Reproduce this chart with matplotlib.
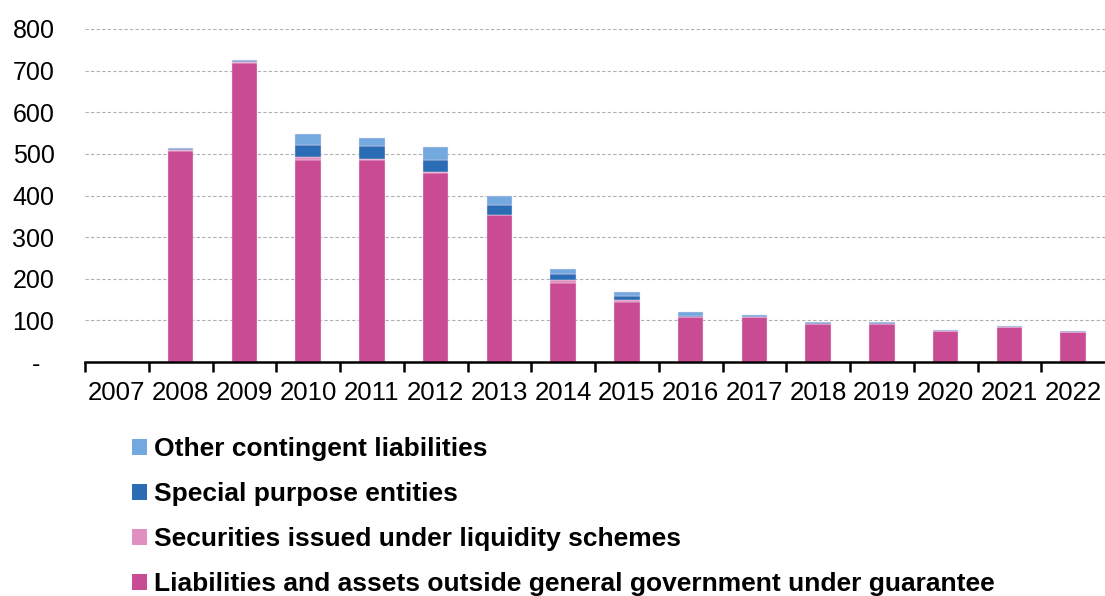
import matplotlib.pyplot as plt
import numpy as np
from matplotlib.patches import Patch

plt.rcParams['font.family'] = ['Liberation Sans', 'DejaVu Sans']

years = ['2007', '2008', '2009', '2010', '2011', '2012', '2013', '2014',
         '2015', '2016', '2017', '2018', '2019', '2020', '2021', '2022']
# values (stacked, bottom to top)
guarantee = [0, 508, 719, 485, 486, 455, 352, 189, 145, 107, 108, 92, 92, 75, 83, 71]
securities = [0, 1, 2, 7, 2, 2, 1, 9, 4, 1, 0, 0, 0, 0, 0, 0]
spe = [0, 3, 2, 30, 32, 29, 24, 13, 9, 3, 1, 1, 1, 0, 0, 0]
other = [0, 1, 3, 26, 18, 31, 22, 12, 11, 10, 5, 3, 3, 3, 3, 3]

labels = ['Other contingent liabilities',
          'Special purpose entities',
          'Securities issued under liquidity schemes',
          'Liabilities and assets outside general government under guarantee']
col_guar = '#C84B93'
col_sec = '#E08FC0'
col_spe = '#2A6DB5'
col_oth = '#74A9E0'

fig = plt.figure(figsize=(11.05, 5.96), dpi=100)
ax = fig.add_axes([85/1105, 1-362/596, 1-85/1105, (362-29)/596])

x = np.arange(len(years))
w = 0.4
b1 = np.array(guarantee)
b2 = b1 + np.array(securities)
b3 = b2 + np.array(spe)
kw = dict(width=w, edgecolor='#F5DCEB', linewidth=0.3, zorder=3)
ax.bar(x, guarantee, color=col_guar, **kw)
ax.bar(x, securities, bottom=b1, color=col_sec, **kw)
ax.bar(x, spe, bottom=b2, color=col_spe, **kw)
ax.bar(x, other, bottom=b3, color=col_oth, **kw)

ax.set_xlim(-0.5, len(years) - 0.5)
ax.set_ylim(0, 800)
ax.set_yticks(range(0, 801, 100))
ax.set_yticklabels(['-  '] + [str(v) for v in range(100, 801, 100)])
ax.tick_params(axis='y', length=0, labelsize=18, pad=22)
ax.yaxis.grid(True, linestyle=(0, (3, 2)), color='#B0B0B0', linewidth=0.8, zorder=0)

ax.set_xticks(np.arange(-0.5, len(years) - 1, 1.0))
ax.set_xticklabels([])
ax.set_xticks(x, minor=True)
ax.set_xticklabels(years, minor=True)
ax.tick_params(axis='x', which='major', length=7, width=1.8, direction='out', color='black')
ax.tick_params(axis='x', which='minor', length=0, labelsize=18.5, pad=14)

for s in ['top', 'right', 'left']:
    ax.spines[s].set_visible(False)
ax.spines['bottom'].set_linewidth(1.8)
ax.spines['bottom'].set_zorder(4)

handles = [Patch(facecolor=col_oth), Patch(facecolor=col_spe),
           Patch(facecolor=col_sec), Patch(facecolor=col_guar)]
fig.legend(handles, labels, loc='upper left', bbox_to_anchor=(132/1105, 1-437/596),
           frameon=False, prop={'weight': 'bold', 'size': 19},
           handlelength=0.55, handleheight=0.55, handletextpad=0.3,
           labelspacing=0.8, borderaxespad=0, borderpad=0)

fig.savefig('out.png', dpi=100)
